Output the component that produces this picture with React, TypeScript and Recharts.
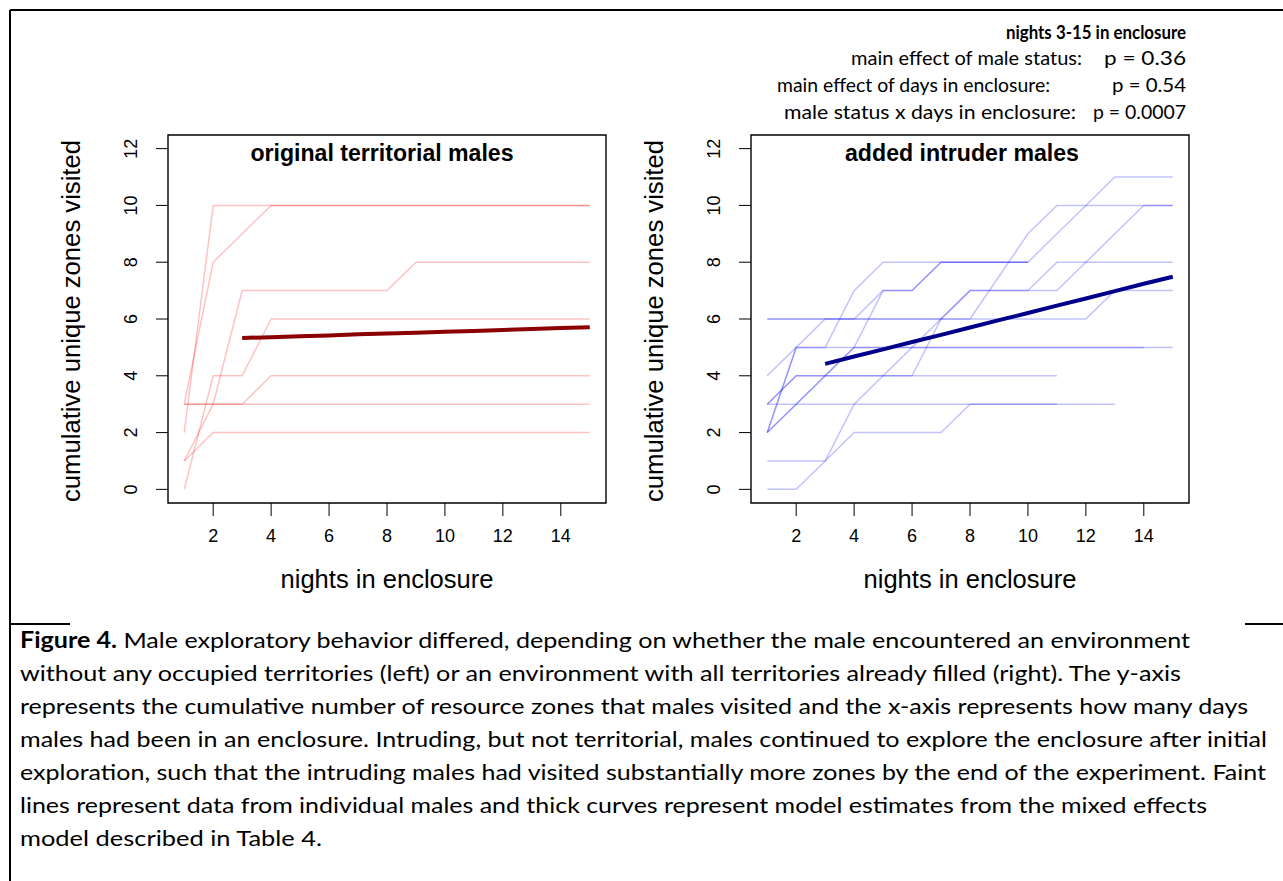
import * as React from "react";
import { LineChart, Line, XAxis, YAxis, ReferenceArea } from "recharts";

// nights since release, shared by both panels
const nights = [1, 2, 3, 4, 5, 6, 7, 8, 9, 10, 11, 12, 13, 14, 15];
const modelNights = [3, 4, 5, 6, 7, 8, 9, 10, 11, 12, 13, 14, 15];
const nightTicks = [2, 4, 6, 8, 10, 12, 14];
const zoneTicks = [0, 2, 4, 6, 8, 10, 12];

// cumulative unique zones per original territorial male, one value per night
const territorialMales: (number | null)[][] = [
    [2, 10, 10, 10, 10, 10, 10, 10, 10, 10, 10, 10, 10, 10, 10],
    [3, 8, 9, 10, 10, 10, 10, 10, 10, 10, 10, 10, 10, 10, 10],
    [1, 3, 7, 7, 7, 7, 7, 7, 8, 8, 8, 8, 8, 8, 8],
    [0, 4, 4, 6, 6, 6, 6, 6, 6, 6, 6, 6, 6, 6, 6],
    [3, 3, 3, 4, 4, 4, 4, 4, 4, 4, 4, 4, 4, 4, 4],
    [3, 3, 3, 3, 3, 3, 3, 3, 3, 3, 3, 3, 3, 3, 3],
    [1, 2, 2, 2, 2, 2, 2, 2, 2, 2, 2, 2, 2, 2, 2],
];

// same for the added intruder males (null = night not recorded)
const intruderMales: (number | null)[][] = [
    [0, 0, 1, 3, 4, 5, 6, 7, 7, 7, 7, 8, 9, 10, 10],
    [1, 1, 1, 2, 2, 2, 2, 3, 3, 3, 3, null, null, null, null],
    [3, 3, 3, 3, 3, 3, 3, 3, 3, 3, 3, 3, 3, null, null],
    [2, 5, 5, 5, 5, 5, 5, 5, 5, 5, 5, 5, 5, 5, 5],
    [2, 5, 5, 7, 8, 8, 8, 8, 8, 8, null, null, null, null, null],
    [2, 3, 4, 5, 5, 5, 5, 5, 5, 5, 5, 5, 5, 5, null],
    [4, 5, 6, 6, 7, 7, 8, 8, 8, 8, 9, 10, 11, 11, 11],
    [6, 6, 6, 6, 6, 6, 6, 6, 6, 6, 6, 6, 7, 7, 7],
    [3, 4, 4, 4, 4, 4, 4, 4, 4, 4, 4, null, null, null, null],
    [3, 4, 4, 4, 4, 4, 6, 7, 7, 7, 8, 8, 8, 8, 8],
    [6, 6, 6, 6, 6, 6, 6, 6, null, 9, 10, 10, 10, 10, 10],
    [2, 3, 4, 5, 7, 7, 8, 8, 8, 8, null, null, null, null, null],
];

// mixed model estimates, nights 3-15
const territorialModel = [5.33, 5.36, 5.39, 5.42, 5.46, 5.49, 5.52, 5.55, 5.58, 5.61, 5.65, 5.68, 5.71];
const intruderModel = [4.42, 4.68, 4.93, 5.19, 5.44, 5.70, 5.96, 6.21, 6.47, 6.72, 6.98, 7.24, 7.49];

const statsTitle = "nights 3-15 in enclosure";
const statsLabels = ["main effect of male status:", "main effect of days in enclosure:", "male status x days in enclosure:"];
const statsValues = ["p = 0.36", "p = 0.54", "p = 0.0007"];

const captionLines = [
    "without any occupied territories (left) or an environment with all territories already filled (right). The y-axis",
    "represents the cumulative number of resource zones that males visited and the x-axis represents how many days",
    "males had been in an enclosure. Intruding, but not territorial, males continued to explore the enclosure after initial",
    "exploration, such that the intruding males had visited substantially more zones by the end of the experiment. Faint",
    "lines represent data from individual males and thick curves represent model estimates from the mixed effects",
    "model described in Table 4.",
];

// text extents for the stats block and caption lines
const labelStarts = [851, 777, 784];
const labelEnds = [1082, 1050, 1076];
const valueStarts = [1104, 1112, 1093];
const captionEnds = [1190, 1181, 1248, 1267, 1266, 1207, 322];

const PLOT_FONT = "'Liberation Sans', Arial, sans-serif";
const TEXT_FONT = "Lato, 'Open Sans', sans-serif";

const toPoints = (values: (number | null)[], xs: number[]) =>
    values
        .map((v, k) => ({ night: xs[k], zones: v }))
        .filter((p) => p.zones !== null);

const ZoneTick = (props: any) => {
    const { x, y, payload } = props;
    return (
        <text x={x} y={y} transform={`rotate(-90, ${x}, ${y})`} textAnchor="middle"
            fontSize={18} fontFamily={PLOT_FONT} fill="#000">
            {payload.value}
        </text>
    );
};

interface IPanelProps {
    title: string;
    titleShift: number;
    titleWidth: number;
    males: (number | null)[][];
    model: number[];
    faint: string;
    thick: string;
    left: number;
}

const Panel: React.FunctionComponent<IPanelProps> = (props: IPanelProps) => {
    // titles are drawn relative to the framed plot region
    const frameText = ({ viewBox }: any) => {
        const { x, y, width, height } = viewBox;
        const cx = x + width / 2;
        return (
            <g fontFamily={PLOT_FONT} fill="#000">
                <text x={cx + props.titleShift} y={y + 26} textAnchor="middle" fontSize={23}
                    fontWeight="bold" textLength={props.titleWidth} lengthAdjust="spacingAndGlyphs">
                    {props.title}
                </text>
                <text x={cx} y={y + height + 85} textAnchor="middle" fontSize={25}
                    textLength={213} lengthAdjust="spacingAndGlyphs">
                    nights in enclosure
                </text>
                <text x={x - 88} y={y + height / 2 + 2} textAnchor="middle" fontSize={25}
                    transform={`rotate(-90, ${x - 88}, ${y + height / 2 + 2})`}
                    textLength={362} lengthAdjust="spacingAndGlyphs">
                    cumulative unique zones visited
                </text>
            </g>
        );
    };

    return (
        <div style={{ position: "absolute", left: props.left, top: 0 }}>
            <LineChart width={640} height={620}
                margin={{ top: 135, right: 34, bottom: 57, left: 108 }}>
                <XAxis type="number" dataKey="night" domain={[0.44, 15.56]} ticks={nightTicks}
                    allowDataOverflow axisLine={false} tickSize={13} tickMargin={13} height={60}
                    tickLine={{ stroke: "#000", strokeWidth: 1 }}
                    tick={{ fill: "#000", fontSize: 18, fontFamily: PLOT_FONT }} />
                <YAxis type="number" domain={[-0.48, 12.48]} ticks={zoneTicks} allowDataOverflow
                    axisLine={false} tickSize={12} tickMargin={19} width={60}
                    tickLine={{ stroke: "#000", strokeWidth: 1 }} tick={<ZoneTick />} />
                {props.males.map((m, k) => (
                    <Line key={"male" + k} data={toPoints(m, nights)} dataKey="zones" type="linear"
                        stroke={props.faint} strokeOpacity={0.24} strokeWidth={1.5}
                        dot={false} activeDot={false} isAnimationActive={false} />
                ))}
                <Line key="model" data={toPoints(props.model, modelNights)} dataKey="zones" type="linear"
                    stroke={props.thick} strokeWidth={4} dot={false} activeDot={false}
                    isAnimationActive={false} />
                <ReferenceArea x1={0.44} x2={15.56} y1={-0.48} y2={12.48} fill="none"
                    fillOpacity={0} stroke="#000" strokeWidth={1.4} label={{ content: frameText }} />
            </LineChart>
        </div>
    );
};

export default function App() {
    return (
        <div style={{ position: "absolute", left: 0, top: 0, width: 1283, height: 881, background: "#fff" }}>
            <Panel title="original territorial males" titleShift={-5} titleWidth={263}
                males={territorialMales} model={territorialModel}
                faint="#ff0000" thick="#8b0000" left={0} />
            <Panel title="added intruder males" titleShift={-8} titleWidth={234}
                males={intruderMales} model={intruderModel}
                faint="#0000ff" thick="#00008b" left={583} />
            <svg width={1283} height={881}
                style={{ position: "absolute", left: 0, top: 0, pointerEvents: "none" }}>
                <g stroke="#000" strokeWidth={2}>
                    <line x1={10} y1={10} x2={1283} y2={10} />
                    <line x1={10} y1={10} x2={10} y2={881} />
                    <line x1={10} y1={624} x2={70} y2={624} />
                    <line x1={1245} y1={624} x2={1283} y2={624} />
                </g>
                <g fontFamily={TEXT_FONT} fill="#000">
                    <text x={1186} y={39} fontSize={18} fontWeight="bold" textAnchor="end"
                        textLength={180} lengthAdjust="spacingAndGlyphs">{statsTitle}</text>
                    {statsLabels.map((s, k) => (
                        <text key={s} x={labelStarts[k]} y={65 + 27 * k} fontSize={19}
                            textLength={labelEnds[k] - labelStarts[k]} lengthAdjust="spacingAndGlyphs">{s}</text>
                    ))}
                    {statsValues.map((s, k) => (
                        <text key={s} x={valueStarts[k]} y={65 + 27 * k} fontSize={19}
                            textLength={1186 - valueStarts[k]} lengthAdjust="spacingAndGlyphs">{s}</text>
                    ))}
                    <text x={20} y={648} fontSize={22} textLength={captionEnds[0] - 20} lengthAdjust="spacingAndGlyphs">
                        <tspan fontWeight="bold">Figure 4.</tspan> Male exploratory behavior differed, depending on whether the male encountered an environment
                    </text>
                    {captionLines.map((s, k) => (
                        <text key={k} x={20} y={648 + 33 * (k + 1)} fontSize={22}
                            textLength={captionEnds[k + 1] - 20} lengthAdjust="spacingAndGlyphs">{s}</text>
                    ))}
                </g>
            </svg>
        </div>
    );
}
